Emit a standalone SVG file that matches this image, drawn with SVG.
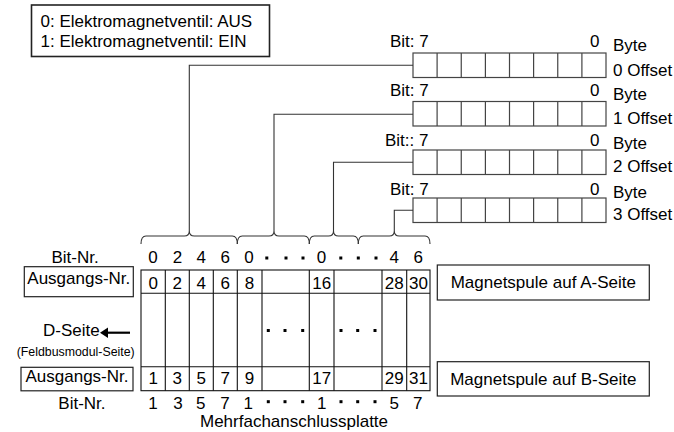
<svg xmlns="http://www.w3.org/2000/svg" width="674" height="432" viewBox="0 0 674 432">
<style>
text{font-family:"Liberation Sans",Arial,sans-serif;font-size:17px;fill:#000}
.c{text-anchor:middle}
.box{fill:#fff;stroke:#222;stroke-width:1.2}
.grid{fill:none;stroke:#111;stroke-width:1.1}
.reg{fill:#fff;stroke:#444;stroke-width:1.2}
.conn{fill:none;stroke:#333;stroke-width:1.1}
.dot{fill:#000}
</style>
<defs>
<g id="cells">
<rect class="reg" x="413" y="0" width="193" height="24.5"/>
<path class="conn" style="stroke:#444;stroke-width:1.2" d="M437.1,0V24.5M461.25,0V24.5M485.4,0V24.5M509.5,0V24.5M533.6,0V24.5M557.75,0V24.5M581.9,0V24.5"/>
</g>
</defs>

<g id="legend">
<rect class="box" x="31.5" y="5" width="238" height="51.5" style="stroke-width:1.6"/>
<text x="40.5" y="26.5">0: Elektromagnetventil: AUS</text>
<text x="40.5" y="46.5">1: Elektromagnetventil: EIN</text>
</g>

<g id="byte0">
<use href="#cells" y="53"/>
<text x="390" y="47">Bit: 7</text>
<text x="590" y="47">0</text>
<text x="613" y="51">Byte</text>
<text x="613" y="76">0 Offset</text>
</g>
<g id="byte1">
<use href="#cells" y="101.5"/>
<text x="390" y="96">Bit: 7</text>
<text x="590" y="96">0</text>
<text x="613" y="100">Byte</text>
<text x="613" y="124">1 Offset</text>
</g>
<g id="byte2">
<use href="#cells" y="150"/>
<text x="385" y="146">Bit:: 7</text>
<text x="590" y="146">0</text>
<text x="613" y="149">Byte</text>
<text x="613" y="172">2 Offset</text>
</g>
<g id="byte3">
<use href="#cells" y="198"/>
<text x="390" y="195">Bit: 7</text>
<text x="590" y="195">0</text>
<text x="613" y="198">Byte</text>
<text x="613" y="220">3 Offset</text>
</g>

<g id="connectors">
<path class="conn" d="M413,65.25H189.3V231"/>
<path class="conn" d="M413,114.25H274V231"/>
<path class="conn" d="M413,162.25H333.5V231"/>
<path class="conn" d="M413,210.25H394.3V231"/>
<path class="conn" d="M141,244Q141,236 146,236H184.3Q189.3,236 189.3,231Q189.3,236 194.3,236H232.3Q237.3,236 237.3,244"/>
<path class="conn" d="M237.3,244Q237.3,236 242.3,236H269Q274,236 274,231Q274,236 279,236H304.3Q309.3,236 309.3,244"/>
<path class="conn" d="M309.3,244Q309.3,236 314.3,236H328.5Q333.5,236 333.5,231Q333.5,236 338.5,236H353.3Q358.3,236 358.3,244"/>
<path class="conn" d="M358.3,244Q358.3,236 363.3,236H389.3Q394.3,236 394.3,231Q394.3,236 399.3,236H425Q430,236 430,244"/>
</g>

<g id="bitnr-top">
<text x="51.5" y="262.5">Bit-Nr.</text>
<text class="c" x="153" y="262.5">0</text>
<text class="c" x="177.5" y="262.5">2</text>
<text class="c" x="201.3" y="262.5">4</text>
<text class="c" x="225.3" y="262.5">6</text>
<text class="c" x="249" y="262.5">0</text>
<rect class="dot" x="265.3" y="256.5" width="3" height="3"/>
<rect class="dot" x="284.5" y="256.5" width="3" height="3"/>
<rect class="dot" x="301.5" y="256.5" width="3" height="3"/>
<text class="c" x="321.5" y="262.5">0</text>
<rect class="dot" x="339.3" y="256.5" width="3" height="3"/>
<rect class="dot" x="356.8" y="256.5" width="3" height="3"/>
<rect class="dot" x="374.5" y="256.5" width="3" height="3"/>
<text class="c" x="394.3" y="262.5">4</text>
<text class="c" x="418.3" y="262.5">6</text>
</g>

<g id="ausgang-a">
<rect class="box" x="24.3" y="266.7" width="109" height="30"/>
<text class="c" x="78.8" y="283.5">Ausgangs-Nr.</text>
</g>
<g id="ausgang-b">
<rect class="box" x="21" y="367.3" width="112" height="23.5"/>
<text class="c" x="77" y="382">Ausgangs-Nr.</text>
</g>

<g id="grid">
<rect class="grid" x="141" y="270" width="289" height="120.7"/>
<path class="grid" d="M141,293.3H430M141,366.7H430M165.3,270V390.7M189.3,270V390.7M213.3,270V390.7M237.3,270V390.7M262,270V390.7M309.3,270V390.7M334,270V390.7M382,270V390.7M406.7,270V390.7"/>
<text class="c" x="153.2" y="289.3">0</text>
<text class="c" x="177.3" y="289.3">2</text>
<text class="c" x="201.3" y="289.3">4</text>
<text class="c" x="225.3" y="289.3">6</text>
<text class="c" x="249.6" y="289.3">8</text>
<text class="c" x="321.7" y="289.3">16</text>
<text class="c" x="394.3" y="289.3">28</text>
<text class="c" x="418.4" y="289.3">30</text>
<rect class="dot" x="266.8" y="329" width="3" height="3"/>
<rect class="dot" x="283.5" y="329" width="3" height="3"/>
<rect class="dot" x="301.2" y="329" width="3" height="3"/>
<rect class="dot" x="339.5" y="329" width="3" height="3"/>
<rect class="dot" x="356.2" y="329" width="3" height="3"/>
<rect class="dot" x="373.5" y="329" width="3" height="3"/>
<text class="c" x="153.2" y="384">1</text>
<text class="c" x="177.3" y="384">3</text>
<text class="c" x="201.3" y="384">5</text>
<text class="c" x="225.3" y="384">7</text>
<text class="c" x="249.6" y="384">9</text>
<text class="c" x="321.7" y="384">17</text>
<text class="c" x="394.3" y="384">29</text>
<text class="c" x="418.4" y="384">31</text>
</g>

<g id="dseite">
<text x="43" y="336">D-Seite</text>
<path d="M104,332.7H130" stroke="#000" stroke-width="2.2" fill="none"/>
<path d="M100,332.7L108,327.5V337.9Z" fill="#000"/>
<text x="16.7" y="356" style="font-size:13px" textLength="118" lengthAdjust="spacingAndGlyphs">(Feldbusmodul-Seite)</text>
</g>

<g id="spule-a">
<rect class="box" x="437.3" y="265" width="212" height="35"/>
<text class="c" x="543.3" y="288">Magnetspule auf A-Seite</text>
</g>
<g id="spule-b">
<rect class="box" x="437.3" y="361.7" width="212" height="34.3"/>
<text class="c" x="543.3" y="385">Magnetspule auf B-Seite</text>
</g>

<g id="bitnr-bottom">
<text x="58.3" y="409">Bit-Nr.</text>
<text class="c" x="153" y="409">1</text>
<text class="c" x="178" y="409">3</text>
<text class="c" x="200.7" y="409">5</text>
<text class="c" x="225" y="409">7</text>
<text class="c" x="248.3" y="409">1</text>
<rect class="dot" x="266.8" y="400.2" width="3" height="3"/>
<rect class="dot" x="283.5" y="400.2" width="3" height="3"/>
<rect class="dot" x="301.2" y="400.2" width="3" height="3"/>
<text class="c" x="321.7" y="409">1</text>
<rect class="dot" x="339.5" y="400.2" width="3" height="3"/>
<rect class="dot" x="356.2" y="400.2" width="3" height="3"/>
<rect class="dot" x="373.5" y="400.2" width="3" height="3"/>
<text class="c" x="394.3" y="409">5</text>
<text class="c" x="417.7" y="409">7</text>
</g>

<g id="plate-label">
<text x="200" y="427">Mehrfachanschlussplatte</text>
</g>
</svg>
